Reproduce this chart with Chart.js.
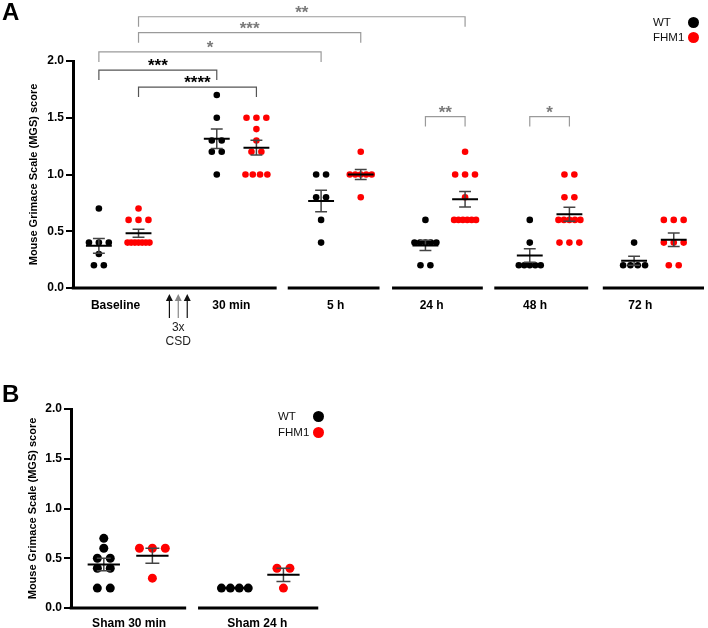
<!DOCTYPE html>
<html>
<head>
<meta charset="utf-8">
<script src="https://cdn.jsdelivr.net/npm/chart.js@4/dist/chart.umd.min.js"></script>
<style>
  body { margin: 0; background: #fff; width: 708px; height: 628px; position: relative; overflow: hidden;
         font-family: Arial, "Liberation Sans", Helvetica, sans-serif; }
  .panel { position: absolute; left: 0; width: 708px; }
  .letter { position: absolute; font-size: 24px; line-height: 24px; font-weight: bold; color: #000; }
  .lg { position: absolute; height: 16px; line-height: 16px; font-size: 11.5px; color: #111; }
  .lg i { position: absolute; left: 35px; top: 2.5px; width: 11px; height: 11px; border-radius: 50%; }
</style>
</head>
<body>
<div class="panel" style="top:0;height:360px"><canvas id="chartA" width="708" height="360"></canvas></div>
<div class="panel" style="top:358px;height:270px"><canvas id="chartB" width="708" height="270"></canvas></div>

<div class="letter" style="left:2px;top:0">A</div>
<div class="letter" style="left:2px;top:382px">B</div>

<div class="lg" style="left:653px;top:14px">WT<i style="background:#000"></i></div>
<div class="lg" style="left:653px;top:29px">FHM1<i style="background:#ff0000"></i></div>
<div class="lg" style="left:278px;top:408px">WT<i style="background:#000"></i></div>
<div class="lg" style="left:278px;top:424px">FHM1<i style="background:#ff0000"></i></div>

<script>
// MGS scores, one inner list per time point

const groupsA = ["Baseline", "30 min", "5 h", "24 h", "48 h", "72 h"];
const wtA = [
  [0.7, 0.4, 0.4, 0.4, 0.3, 0.2, 0.2],
  [1.7, 1.5, 1.3, 1.3, 1.2, 1.2, 1.0],
  [1.0, 1.0, 0.8, 0.8, 0.6, 0.4],
  [0.6, 0.4, 0.4, 0.4, 0.4, 0.4, 0.2, 0.2],
  [0.6, 0.4, 0.2, 0.2, 0.2, 0.2, 0.2],
  [0.4, 0.2, 0.2, 0.2, 0.2],
];
const fhm1A = [
  [0.7, 0.6, 0.6, 0.6, 0.4, 0.4, 0.4, 0.4, 0.4, 0.4, 0.4],
  [1.5, 1.5, 1.5, 1.4, 1.3, 1.2, 1.2, 1.0, 1.0, 1.0, 1.0],
  [1.2, 1.0, 1.0, 1.0, 1.0, 1.0, 0.8],
  [1.2, 1.0, 1.0, 1.0, 0.8, 0.6, 0.6, 0.6, 0.6, 0.6, 0.6],
  [1.0, 1.0, 0.8, 0.8, 0.6, 0.6, 0.6, 0.6, 0.6, 0.4, 0.4, 0.4],
  [0.6, 0.6, 0.6, 0.4, 0.4, 0.4, 0.2, 0.2],
];

const groupsB = ["Sham 30 min", "Sham 24 h"];
const wtB = [
  [0.7, 0.6, 0.5, 0.5, 0.4, 0.4, 0.2, 0.2],
  [0.2, 0.2, 0.2, 0.2],
];
const fhm1B = [
  [0.6, 0.6, 0.6, 0.3],
  [0.4, 0.4, 0.2],
];

const yTicks = [0, 0.5, 1.0, 1.5, 2.0];

// significance brackets (panel A): [group, series] with series 0 = WT, 1 = FHM1
const bracketFrom = [[0, 1], [0, 1], [0, 0], [0, 0], [0, 1], [3, 0], [4, 0]];
const bracketTo   = [[3, 1], [2, 1], [2, 0], [1, 0], [1, 1], [3, 1], [4, 1]];
const bracketY    = [2.39, 2.25, 2.08, 1.92, 1.77, 1.51, 1.51];
const bracketText = ["**", "***", "*", "***", "****", "**", "*"];
const bracketDark = [false, false, false, true, true, false, false];

const FONT = 'Arial, "Liberation Sans", Helvetica, sans-serif';
const RED = "#ff0000";

// x units are ~105px in both panels
const layoutA = {
  labels: groupsA, wt: wtA, fhm: fhm1A,
  pos: [0, 1.13, 2.13, 3.13, 4.13, 5.13],
  tickPos: [-0.03, 1.08, 2.08, 3.0, 3.99, 5.0],
  off: 0.19, xmin: -0.438, xmax: 5.61,
  segs: [[-0.45, 1.514], [1.62, 2.5], [2.62, 3.49], [3.6, 4.5], [4.64, 5.61]],
  top: 61, xAxisH: 72, yAxisW: 73, xPad: 10, titlePad: 27,
  r: 3.3, step: 0.095, maxW: 0.21, meanHalf: 0.124, cap: 0.057,
  brackets: true, arrows: [0.486, 0.571, 0.657],
};
const layoutB = {
  labels: groupsB, wt: wtB, fhm: fhm1B,
  pos: [0, 1.257],
  tickPos: [0.01, 1.24],
  off: 0.233, xmin: -0.5476, xmax: 5.519,
  segs: [[-0.56, 0.557], [0.671, 1.824]],
  top: 51, xAxisH: 20, yAxisW: 71, xPad: 8, titlePad: 26,
  r: 4.5, step: 0.124, maxW: 0.257, meanHalf: 0.155, cap: 0.067,
  brackets: false, arrows: [],
};

function mean(a) { return a.reduce((s, v) => s + v, 0) / a.length; }
function sem(a) {
  const m = mean(a);
  const v = a.reduce((s, x) => s + (x - m) ** 2, 0) / (a.length - 1);
  return Math.sqrt(v / a.length);
}

// spread equal values sideways like a scatter dot plot
function swarm(groups, pos, off, step, maxW) {
  const pts = [];
  groups.forEach((vals, g) => {
    const cx = pos[g] + off;
    const counts = {}, seen = {};
    vals.forEach(v => { counts[v] = (counts[v] || 0) + 1; });
    vals.forEach(v => {
      const n = counts[v];
      const i = seen[v] = (seen[v] === undefined ? 0 : seen[v] + 1);
      const s = n > 1 ? Math.min(step, maxW / (n - 1)) : 0;
      pts.push({ x: cx + (i - (n - 1) / 2) * s, y: v });
    });
  });
  return pts;
}

function meanLines(groups, pos, off, half) {
  const d = [];
  groups.forEach((vals, g) => {
    const cx = pos[g] + off, m = mean(vals);
    d.push({ x: cx - half, y: m }, { x: cx + half, y: m }, { x: cx, y: null });
  });
  return d;
}

function semLines(groups, pos, off, cap) {
  const d = [];
  groups.forEach((vals, g) => {
    const cx = pos[g] + off, m = mean(vals), e = sem(vals);
    if (!(e > 0)) return;
    d.push({ x: cx - cap, y: m + e }, { x: cx + cap, y: m + e }, { x: cx, y: null },
           { x: cx, y: m + e }, { x: cx, y: m - e }, { x: cx, y: null },
           { x: cx - cap, y: m - e }, { x: cx + cap, y: m - e }, { x: cx, y: null });
  });
  return d;
}

function extrasPlugin(L) {
  return {
    id: "extras",
    afterDraw(chart) {
      const { ctx, chartArea } = chart;
      const xs = chart.scales.x, ys = chart.scales.y;
      const y0 = ys.getPixelForValue(0);
      ctx.save();

      // broken x axis
      ctx.strokeStyle = "#000";
      ctx.lineWidth = 3;
      L.segs.forEach(([a, b]) => {
        ctx.beginPath();
        ctx.moveTo(Math.max(xs.getPixelForValue(a), chartArea.left - 1.5), y0);
        ctx.lineTo(xs.getPixelForValue(b), y0);
        ctx.stroke();
      });

      if (L.brackets) {
        const side = [-L.off, L.off];
        bracketText.forEach((txt, k) => {
          const x1 = xs.getPixelForValue(L.pos[bracketFrom[k][0]] + side[bracketFrom[k][1]]);
          const x2 = xs.getPixelForValue(L.pos[bracketTo[k][0]] + side[bracketTo[k][1]]);
          const py = ys.getPixelForValue(bracketY[k]);
          ctx.strokeStyle = bracketDark[k] ? "#555" : "#9a9a9a";
          ctx.lineWidth = 1.2;
          ctx.beginPath();
          ctx.moveTo(x1, py + 10); ctx.lineTo(x1, py); ctx.lineTo(x2, py); ctx.lineTo(x2, py + 10);
          ctx.stroke();
          ctx.fillStyle = bracketDark[k] ? "#000" : "#7a7a7a";
          ctx.font = "bold 17px " + FONT;
          ctx.textAlign = "center";
          ctx.textBaseline = "alphabetic";
          ctx.fillText(txt, (x1 + x2) / 2, py + 1);
        });
      }

      if (L.arrows.length) {
        L.arrows.forEach((a, k) => {
          const ax = xs.getPixelForValue(a);
          const col = k === 1 ? "#888" : "#111";
          ctx.strokeStyle = col; ctx.fillStyle = col; ctx.lineWidth = 1.2;
          ctx.beginPath(); ctx.moveTo(ax, y0 + 11); ctx.lineTo(ax, y0 + 30); ctx.stroke();
          ctx.beginPath(); ctx.moveTo(ax, y0 + 6); ctx.lineTo(ax - 3.5, y0 + 13); ctx.lineTo(ax + 3.5, y0 + 13);
          ctx.closePath(); ctx.fill();
        });
        const mid = xs.getPixelForValue(L.arrows[1]);
        ctx.fillStyle = "#222";
        ctx.font = "12px " + FONT;
        ctx.textAlign = "center";
        ctx.textBaseline = "middle";
        ctx.fillText("3x", mid, y0 + 40);
        ctx.fillText("CSD", mid, y0 + 54);
      }
      ctx.restore();
    },
  };
}

function buildChart(id, L) {
  const datasets = [];
  [[L.wt, -L.off], [L.fhm, L.off]].forEach(([vals, o]) => {
    datasets.push({ data: meanLines(vals, L.pos, o, L.meanHalf), showLine: true,
      borderColor: "#000", borderWidth: 2, pointRadius: 0, spanGaps: false });
    datasets.push({ data: semLines(vals, L.pos, o, L.cap), showLine: true,
      borderColor: "#444", borderWidth: 1.5, pointRadius: 0, spanGaps: false });
  });
  datasets.push({ data: swarm(L.wt, L.pos, -L.off, L.step, L.maxW), pointRadius: L.r,
    pointBackgroundColor: "#000", pointBorderWidth: 0, borderColor: "#000" });
  datasets.push({ data: swarm(L.fhm, L.pos, L.off, L.step, L.maxW), pointRadius: L.r,
    pointBackgroundColor: RED, pointBorderWidth: 0, borderColor: RED });

  return new Chart(document.getElementById(id), {
    type: "scatter",
    data: { datasets },
    options: {
      responsive: false, animation: false, events: [],
      layout: { padding: { top: L.top, left: 0, right: 0, bottom: 0 } },
      plugins: { legend: { display: false }, tooltip: { enabled: false } },
      scales: {
        x: {
          type: "linear", min: L.xmin, max: L.xmax,
          grid: { display: false, drawTicks: false },
          border: { display: false },
          afterFit: (s) => { s.height = L.xAxisH; },
          afterBuildTicks: (s) => { s.ticks = L.tickPos.map((v) => ({ value: v })); },
          ticks: {
            autoSkip: false, maxRotation: 0, padding: L.xPad, color: "#000",
            font: { family: FONT, size: 12, weight: "bold" },
            callback: (v, i) => L.labels[i],
          },
        },
        y: {
          min: 0, max: 2,
          afterFit: (s) => { s.width = L.yAxisW; },
          afterBuildTicks: (s) => { s.ticks = yTicks.map((v) => ({ value: v })); },
          ticks: { padding: 2, color: "#000", font: { family: FONT, size: 12, weight: "bold" },
                   callback: (v) => Number(v).toFixed(1) },
          grid: { display: true, drawOnChartArea: false, drawTicks: true, tickLength: 7,
                  color: "#000", lineWidth: 2 },
          border: { display: true, color: "#000", width: 3 },
          title: { display: true, text: "Mouse Grimace Scale (MGS) score", color: "#000",
                   font: { family: FONT, size: 11, weight: "bold" },
                   padding: { top: L.titlePad, bottom: 0 } },
        },
      },
    },
    plugins: [extrasPlugin(L)],
  });
}

buildChart("chartA", layoutA);
buildChart("chartB", layoutB);
</script>
</body>
</html>
